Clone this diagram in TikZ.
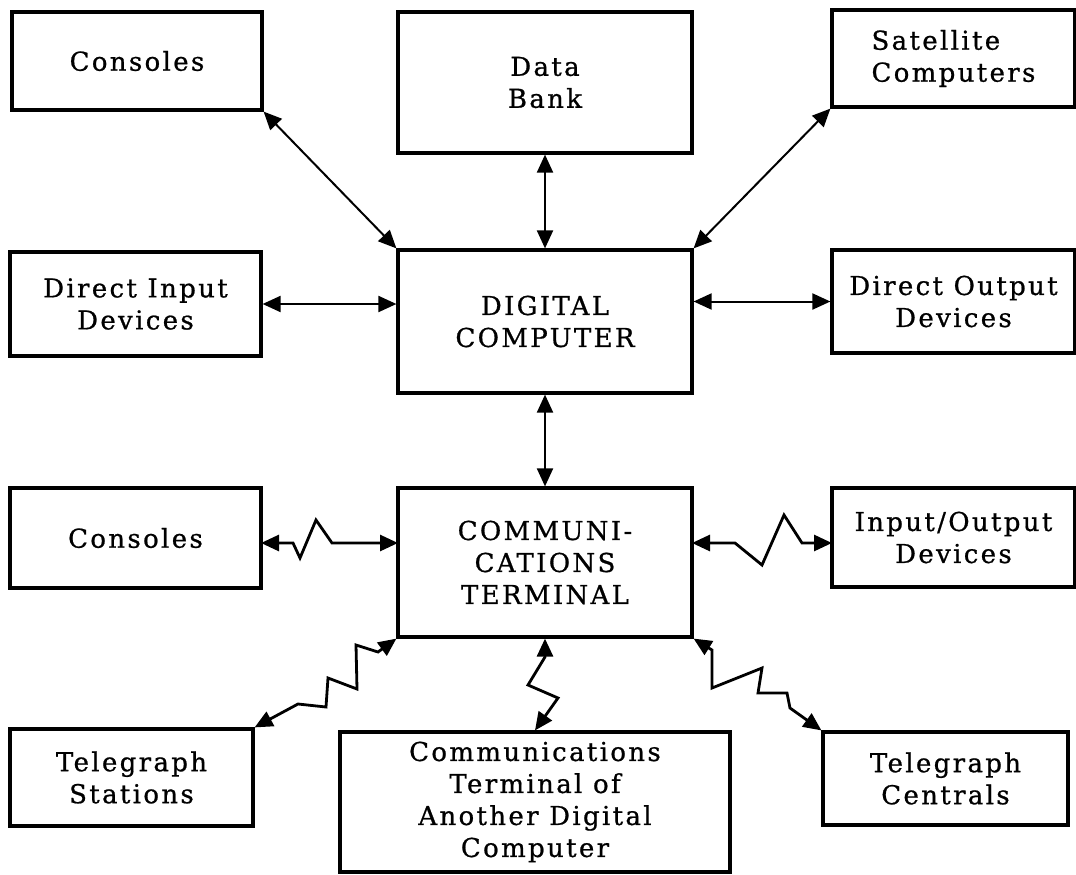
\documentclass[tikz,border=0pt]{standalone}
\usepackage{fontspec}
\setmainfont{DejaVu Serif}[LetterSpace=9,FakeBold=0.8]
\usetikzlibrary{arrows.meta}
\begin{document}
\begin{tikzpicture}[x=1pt,y=-1pt,
  box/.style={draw,line width=3.2pt,inner sep=0pt,align=center,
    font=\fontsize{26}{32}\selectfont},
  conn/.style={line width=2pt,{Triangle[length=18pt,width=16pt]}-{Triangle[length=18pt,width=16pt]}},
  zig/.style={line width=2.8pt,line join=miter,{Triangle[length=18pt,width=16pt]}-{Triangle[length=18pt,width=16pt]}}]
\useasboundingbox (0,0) rectangle (1076,875);
% boxes
\node[box,minimum width=250pt,minimum height=98pt] (cons1) at (137,61) {\raisebox{-4pt}{Consoles}};
\node[box,minimum width=294pt,minimum height=141pt] (bank) at (545,82.5) {Data\\Bank};
\node[box,minimum width=243pt,minimum height=97pt,align=left] (sat) at (953.5,58.5) {Satellite\\Computers};
\node[box,minimum width=251pt,minimum height=104pt] (din) at (135.5,304) {Direct Input\\Devices};
\node[box,minimum width=294pt,minimum height=143pt] (dc) at (545,321.5) {DIGITAL\\COMPUTER};
\node[box,minimum width=243pt,minimum height=103pt] (dout) at (953.5,301.5) {Direct Output\\Devices};
\node[box,minimum width=251pt,minimum height=100pt] (cons2) at (135.5,538) {\raisebox{-4pt}{Consoles}};
\node[box,minimum width=294pt,minimum height=149pt] (ct) at (545,562.5) {COMMUNI-\\CATIONS\\TERMINAL};
\node[box,minimum width=243pt,minimum height=99pt] (io) at (953.5,537.5) {Input/Output\\Devices};
\node[box,minimum width=243pt,minimum height=97pt] (ts) at (131.5,777.5) {Telegraph\\Stations};
\node[box,minimum width=390pt,minimum height=140pt] (cta) at (535,802) {Communications\\Terminal of\\Another Digital\\Computer};
\node[box,minimum width=245pt,minimum height=93pt] (tc) at (945.5,778.5) {Telegraph\\Centrals};
% straight connectors
\draw[conn] (cons1.south east) -- (dc.north west);
\draw[conn] (bank.south) -- (dc.north);
\draw[conn] (sat.south west) -- (dc.north east);
\draw[conn] (din.east) -- (din.east -| dc.west);
\draw[conn] (dc.east |- dout.west) -- (dout.west);
\draw[conn] (dc.south) -- (ct.north);
% zigzag connectors
\coordinate (a1) at (261,543);
\coordinate (a2) at (398,543);
\draw[zig] (a1) -- (293,543) -- (300,558) -- (316,520) -- (332,543) -- (a2);
\coordinate (b1) at (692,543);
\coordinate (b2) at (832,543);
\draw[zig] (b1) -- (735,543) -- (762,565) -- (784,515) -- (802,543) -- (b2);
\draw[zig] (ct.south west) -- (378,652) -- (356,645) -- (357,689) -- (328,678) -- (326,707) -- (298,704) -- (ts.north east);
\draw[zig] (ct.south) -- (545,657) -- (528,685) -- (558,698) -- (cta.north);
\draw[zig] (ct.south east) -- (712,650) -- (712,688) -- (762,668) -- (758,693) -- (787,693) -- (790,708) -- (tc.north west);
\end{tikzpicture}
\end{document}
